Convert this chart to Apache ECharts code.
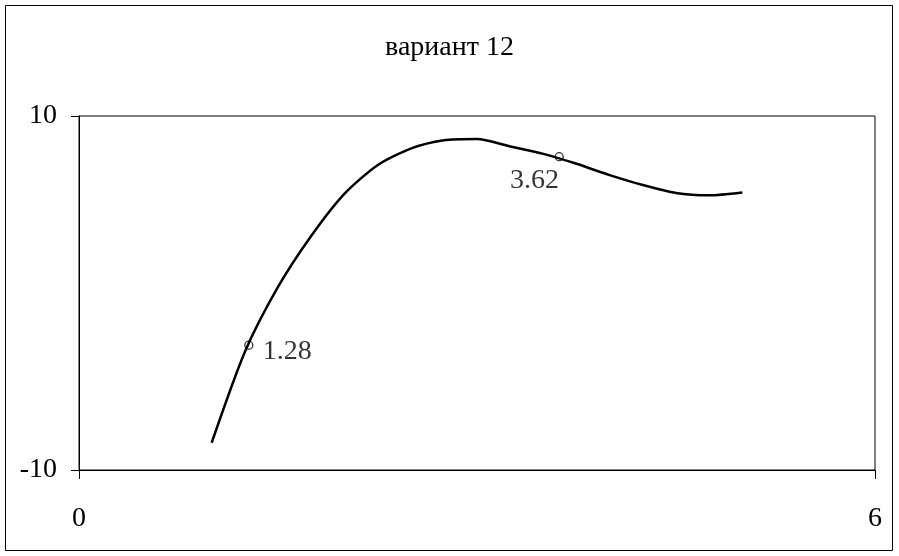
<!DOCTYPE html>
<html>
<head>
<meta charset="utf-8">
<script src="https://cdn.jsdelivr.net/npm/echarts@6/dist/echarts.min.js"></script>
<style>html,body{margin:0;padding:0;background:#fff;}#c{width:899px;height:556px;}</style>
</head>
<body>
<div id="c"></div>
<script>
const titleText = 'вариант 12';
const xValues = [1.0, 1.25, 1.5, 1.75, 2.0, 2.25, 2.5, 2.75, 3.0, 3.25, 3.5, 3.75, 4.0, 4.25, 4.5, 4.75, 5.0];
const yValues = [-8.46, -3.33, 0.34, 3.22, 5.6, 7.22, 8.16, 8.63, 8.70, 8.28, 7.86, 7.30, 6.66, 6.1, 5.65, 5.52, 5.68];
const markX = [1.28, 3.62];
const markY = [-2.95, 7.70];
const xTicks = [0, 6];
const yTicks = [-10, 10];

const FONT = 'Liberation Serif';
const chart = echarts.init(document.getElementById('c'), null, {renderer: 'canvas'});
const lineData = xValues.map((x, i) => [x, yValues[i]]);
const labelPos = [[43, 11], [-20, 29]];
const markData = markX.map((x, i) => ({
  value: [x, markY[i]],
  label: {show: true, position: labelPos[i], align: 'center', verticalAlign: 'middle',
          color: '#000', textBorderWidth: 0,
          fontFamily: FONT, fontSize: 28, formatter: x.toFixed(2)}
}));

chart.setOption({
  backgroundColor: '#fff',
  animation: false,
  title: {
    text: titleText, left: 'center', top: 29,
    textStyle: {fontFamily: FONT, fontSize: 28, fontWeight: 'normal', color: '#000'}
  },
  graphic: [{
    type: 'rect', shape: {x: 5.5, y: 5.5, width: 887, height: 545},
    style: {fill: 'none', stroke: '#000', lineWidth: 1}, silent: true
  }],
  grid: {left: 79, right: 24, top: 116, bottom: 86, show: true, borderColor: '#000', borderWidth: 1, backgroundColor: '#fff'},
  xAxis: {
    type: 'value', min: xTicks[0], max: xTicks[1], interval: xTicks[1] - xTicks[0],
    axisLine: {show: true, onZero: false, lineStyle: {color: '#000', width: 1}},
    axisTick: {show: true, length: 9, lineStyle: {color: '#000'}},
    splitLine: {show: false},
    axisLabel: {margin: 35, fontFamily: FONT, fontSize: 28, color: '#000'}
  },
  yAxis: {
    type: 'value', min: yTicks[0], max: yTicks[1], interval: yTicks[1] - yTicks[0],
    axisLine: {show: true, onZero: false, lineStyle: {color: '#000', width: 1}},
    axisTick: {show: true, length: 8, lineStyle: {color: '#000'}},
    splitLine: {show: false},
    axisLabel: {margin: 22, fontFamily: FONT, fontSize: 28, color: '#000'}
  },
  series: [{
    type: 'line', data: lineData, smooth: 0.25, showSymbol: false,
    lineStyle: {color: '#000', width: 2.5}, z: 2
  }, {
    type: 'scatter', data: markData, symbol: 'circle', symbolSize: 8,
    itemStyle: {color: 'rgba(255,255,255,0)', borderColor: '#000', borderWidth: 1.3},
    z: 3
  }]
});
</script>
</body>
</html>
